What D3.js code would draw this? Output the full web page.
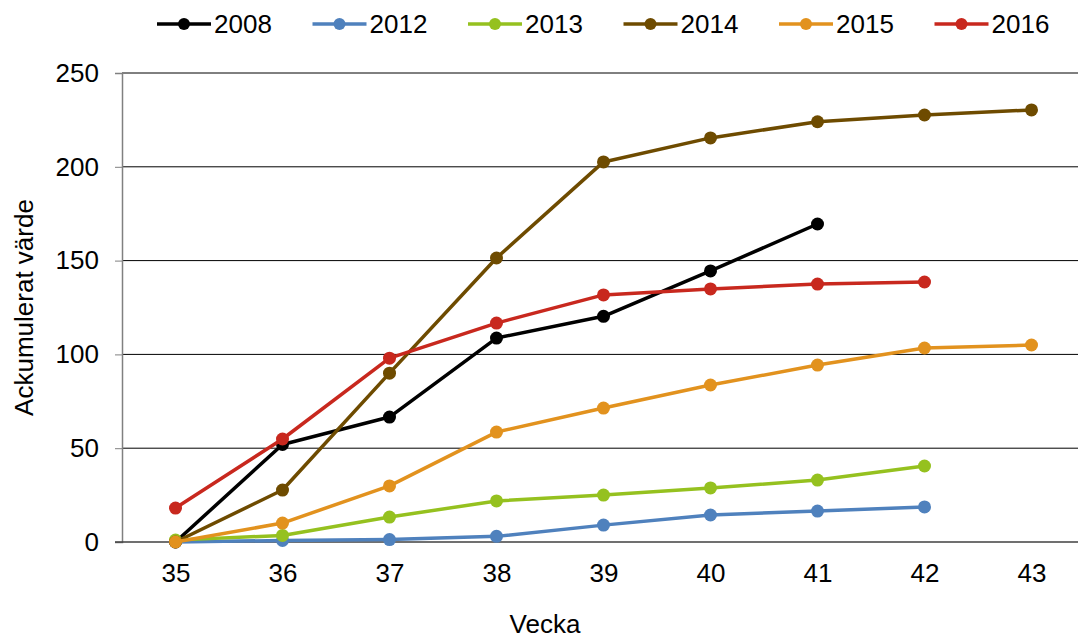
<!DOCTYPE html>
<html>
<head>
<meta charset="utf-8">
<script src="https://cdn.jsdelivr.net/npm/d3@7"></script>
<style>
    body { margin: 0; background: #fff; }
    text { font-family: "Liberation Sans", Arial, sans-serif; fill: #000; }
</style>
</head>
<body>
<div id="chart"></div>
<script>
// Data
const weeks = [35, 36, 37, 38, 39, 40, 41, 42, 43];
const yTicks = [0, 50, 100, 150, 200, 250];

const years = ['2008', '2012', '2013', '2014', '2015', '2016'];
const colors = ['#000000', '#4F81BD', '#95C11F', '#6E4B00', '#E2921E', '#C8281E'];

const v2008 = [0, 52, 66.6, 108.7, 120.3, 144.5, 169.5];
const v2012 = [0, 0.8, 1.3, 3, 9, 14.4, 16.5, 18.7];
const v2013 = [1, 3.5, 13.3, 21.9, 25, 28.8, 33, 40.5];
const v2014 = [0, 27.7, 90, 151.4, 202.6, 215.4, 224, 227.6, 230.3];
const v2015 = [0, 10.1, 29.9, 58.6, 71.4, 83.7, 94.3, 103.4, 105];
const v2016 = [18.1, 54.9, 98, 116.7, 131.7, 134.9, 137.5, 138.6];

const seriesValues = [v2008, v2012, v2013, v2014, v2015, v2016];

const width = 1078, height = 640;
const margin = {top: 73, right: -7, bottom: 98, left: 122};
const fontSize = '26px';

const svg = d3.select('#chart')
    .append('svg')
    .attr('width', width)
    .attr('height', height);

const x = d3.scalePoint()
    .domain(weeks)
    .range([margin.left, width - margin.right])
    .padding(0.5);

const y = d3.scaleLinear()
    .domain([0, 250])
    .range([height - margin.bottom, margin.top]);

// Gridlines
svg.append('g')
    .selectAll('line')
    .data(yTicks.filter(d => d > 0))
    .join('line')
    .attr('x1', margin.left)
    .attr('x2', width)
    .attr('y1', d => y(d))
    .attr('y2', d => y(d))
    .attr('stroke', '#000')
    .attr('stroke-width', 1);

// Y axis
const yAxis = svg.append('g')
    .attr('transform', `translate(${margin.left},0)`)
    .call(d3.axisLeft(y).tickValues(yTicks).tickSize(7).tickPadding(16));
yAxis.select('.domain').attr('stroke', '#808080').attr('stroke-width', 1.5);
yAxis.selectAll('.tick line').attr('stroke', '#808080');
yAxis.selectAll('text').style('font-size', fontSize).attr('fill', '#000');

// X axis (baseline)
svg.append('line')
    .attr('x1', margin.left - 7)
    .attr('x2', width)
    .attr('y1', y(0))
    .attr('y2', y(0))
    .attr('stroke', '#404040')
    .attr('stroke-width', 1.5);

const xAxis = svg.append('g')
    .attr('transform', `translate(0,${y(0)})`)
    .call(d3.axisBottom(x).tickSize(0).tickPadding(22));
xAxis.select('.domain').remove();
xAxis.selectAll('text').style('font-size', fontSize).attr('fill', '#000');

// Axis titles
svg.append('text')
    .attr('x', 545)
    .attr('y', 633)
    .attr('text-anchor', 'middle')
    .style('font-size', fontSize)
    .text('Vecka');

svg.append('text')
    .attr('transform', `translate(33,${(y(0) + y(250)) / 2}) rotate(-90)`)
    .attr('text-anchor', 'middle')
    .style('font-size', fontSize)
    .text('Ackumulerat värde');

// Lines and markers
const line = d3.line()
    .x((d, i) => x(weeks[i]))
    .y(d => y(d));

years.forEach((yr, s) => {
    const vals = seriesValues[s];
    const g = svg.append('g');
    g.append('path')
        .datum(vals)
        .attr('d', line)
        .attr('fill', 'none')
        .attr('stroke', colors[s])
        .attr('stroke-width', 3.5)
        .attr('stroke-linejoin', 'round');
    g.selectAll('circle')
        .data(vals)
        .join('circle')
        .attr('cx', (d, i) => x(weeks[i]))
        .attr('cy', d => y(d))
        .attr('r', 6.5)
        .attr('fill', colors[s]);
});

// Legend
const legend = svg.append('g').attr('transform', 'translate(157,24)');
years.forEach((yr, i) => {
    const item = legend.append('g').attr('transform', `translate(${i * 155.5},0)`);
    item.append('line')
        .attr('x1', 0).attr('x2', 54)
        .attr('y1', 0).attr('y2', 0)
        .attr('stroke', colors[i])
        .attr('stroke-width', 3.5);
    item.append('circle')
        .attr('cx', 27).attr('cy', 0).attr('r', 6)
        .attr('fill', colors[i]);
    item.append('text')
        .attr('x', 57)
        .attr('y', 9)
        .style('font-size', fontSize)
        .text(yr);
});
</script>
</body>
</html>
